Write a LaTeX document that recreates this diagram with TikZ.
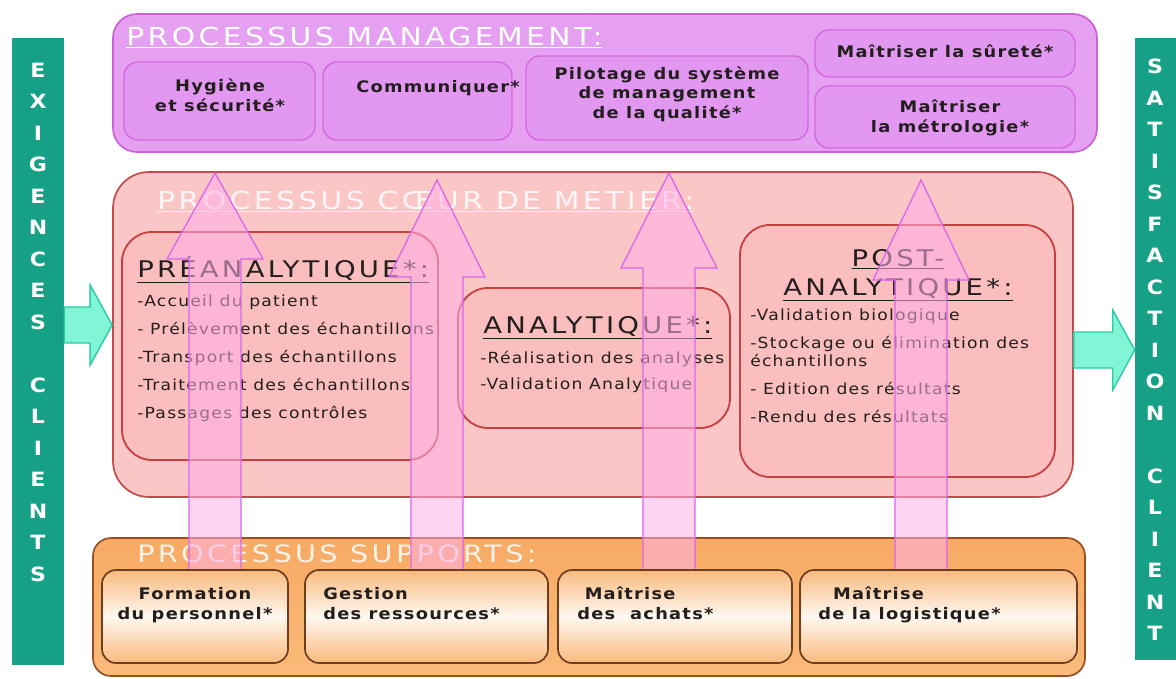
\documentclass[tikz,border=0pt]{standalone}
\usepackage{fontspec}
\setmainfont{DejaVu Sans}[FakeStretch=1.12,LetterSpace=8]
\newfontfamily\headfont{DejaVu Sans}[FakeStretch=1.2,LetterSpace=14]
\usetikzlibrary{positioning,fit,calc}
\definecolor{barteal}{RGB}{22,160,133}
\definecolor{aqua}{RGB}{130,245,215}
\definecolor{aquaedge}{RGB}{40,205,165}
\definecolor{mgmtfill}{RGB}{230,160,242}
\definecolor{mgmtline}{RGB}{205,95,215}
\definecolor{mgmtsubfill}{RGB}{226,152,240}
\definecolor{mgmtsubline}{RGB}{212,105,222}
\definecolor{corefill}{RGB}{250,198,198}
\definecolor{coreline}{RGB}{195,75,75}
\definecolor{phasefill}{RGB}{250,190,190}
\definecolor{phaseline}{RGB}{200,65,65}
\definecolor{suptop}{RGB}{247,170,100}
\definecolor{supbottom}{RGB}{250,186,122}
\definecolor{supline}{RGB}{150,80,35}
\definecolor{supsubedge}{RGB}{248,185,125}
\definecolor{supsubmid}{RGB}{255,248,240}
\definecolor{supsubline}{RGB}{110,60,30}
\definecolor{flowpink}{RGB}{255,175,232}
\definecolor{flowedge}{RGB}{220,100,235}
\definecolor{inkdark}{RGB}{35,30,30}

% block arrow going right, #1 = foot, #2 = tip
\newcommand{\sidearrow}[2]{%
  \filldraw[cyanarrow] ($(#1)+(0,-18)$) -- ($(#2)+(-22,-18)$) -- ($(#2)+(-22,-40)$) -- (#2)
    -- ($(#2)+(-22,40)$) -- ($(#2)+(-22,18)$) -- ($(#1)+(0,18)$) -- cycle;}
% block arrow going up, #1 = foot, #2 = tip, #3 = head length
\newcommand{\uparrowflow}[3]{%
  \filldraw[pinkarrow] ($(#1)+(-26,0)$) -- ($(#2)+(-26,#3)$) -- ($(#2)+(-48,#3)$) -- (#2)
    -- ($(#2)+(48,#3)$) -- ($(#2)+(26,#3)$) -- ($(#1)+(26,0)$) -- cycle;}

\begin{document}
\begin{tikzpicture}[
    x=0.025cm, y=-0.025cm,
    every node/.style={inner sep=0pt},
    sidebar/.style={rectangle, fill=barteal},
    sideletters/.style={text=white, align=center, font=\bfseries\fontsize{14}{22.4}\selectfont},
    mgmtbox/.style={rectangle, rounded corners=0.6cm, draw=mgmtline, fill=mgmtfill, line width=1.2pt},
    mgmtsub/.style={rectangle, rounded corners=0.35cm, draw=mgmtsubline, fill=mgmtsubfill, line width=1pt},
    corebox/.style={rectangle, rounded corners=0.9cm, draw=coreline, fill=corefill, line width=1.2pt},
    phasebox/.style={rectangle, rounded corners=0.75cm, draw=phaseline, fill=phasefill, line width=1.3pt},
    supbox/.style={rectangle, rounded corners=0.45cm, draw=supline, top color=suptop, bottom color=supbottom, line width=1.2pt},
    supsub/.style={rectangle, rounded corners=0.35cm, draw=supsubline, top color=supsubedge, bottom color=supsubedge, middle color=supsubmid, line width=1.2pt},
    headtxt/.style={anchor=base west, text=white, font=\headfont\fontsize{17.6}{20}\selectfont},
    phasetitle/.style={anchor=base west, text=inkdark, font=\headfont\fontsize{16.3}{20.6}\selectfont},
    itemtxt/.style={anchor=base west, align=left, text=inkdark, font=\fontsize{10.9}{19.8}\selectfont},
    boxtxt/.style={anchor=base, align=center, text=inkdark, font=\bfseries\fontsize{11.3}{13.7}\selectfont},
    cyanarrow/.style={fill=aqua, draw=aquaedge, line width=1pt},
    pinkarrow/.style={fill=flowpink, fill opacity=0.55, draw=flowedge, line width=0.9pt}
]
    \path[use as bounding box, clip] (0,0) rectangle (1176,678);
    \fill[white] (0,0) rectangle (1176,678);

    % customer bars
    \node[sidebar, fit={(12,38) (64,665)}] (exig) {};
    \node[sidebar, fit={(1135,38) (1190,660)}] (satis) {};
    \node[sideletters] (exigtxt) at (38,322) {E\\X\\I\\G\\E\\N\\C\\E\\S\\~\\C\\L\\I\\E\\N\\T\\S};
    \node[sideletters] (satistxt) at (1155,350) {S\\A\\T\\I\\S\\F\\A\\C\\T\\I\\O\\N\\~\\C\\L\\I\\E\\N\\T};

    % management (base = last line)
    \node[mgmtbox, fit={(113,14) (1097,152)}] (mgmt) {};
    \node[headtxt] (mgmttitle) at (126,45) {\underline{PROCESSUS MANAGEMENT:}};
    \node[mgmtsub, fit={(124,62) (315,140)}] (hyg) {};
    \node[mgmtsub, fit={(323,62) (512,140)}] (comm) {};
    \node[mgmtsub, fit={(526,56) (808,140)}] (pilot) {};
    \node[mgmtsub, fit={(815,30) (1075,77)}] (surete) {};
    \node[mgmtsub, fit={(815,86) (1075,148)}] (metro) {};
    \node[boxtxt] (hygtxt) at (220,111) {Hygiène\\et sécurité*};
    \node[boxtxt, anchor=base west] (commtxt) at (356,92) {Communiquer*};
    \node[boxtxt] (pilottxt) at (667,118) {Pilotage du système\\de management\\de la qualité*};
    \node[boxtxt] (suretetxt) at (945,57) {Maîtriser la sûreté*};
    \node[boxtxt] (metrotxt) at (950,132) {Maîtriser\\la métrologie*};

    % core business
    \node[corebox, fit={(113,172) (1073,497)}] (core) {};
    \node[headtxt, text opacity=0.85] (coretitle) at (157,209) {\underline{PROCESSUS CŒUR DE METIER:}};
    \node[phasebox, fit={(122,232) (438,460)}] (pre) {};
    \node[phasebox, fit={(458,288) (730,428)}] (ana) {};
    \node[phasebox, fit={(740,225) (1055,477)}] (post) {};
    \node[phasetitle] (pretitle) at (137,277) {\underline{PRÉANALYTIQUE*:}};
    \node[itemtxt] (preitems) at (137,418) {-Accueil du patient\\- Prélèvement des échantillons\\-Transport des échantillons\\-Traitement des échantillons\\-Passages des contrôles};
    \node[phasetitle] (anatitle) at (483,333) {\underline{ANALYTIQUE*:}};
    \node[itemtxt] (anaitems) at (480,389) {-Réalisation des analyses\\[-2pt]-Validation Analytique};
    \node[phasetitle, anchor=base, align=center] (posttitle) at (898,295) {\underline{POST-}\\\underline{ANALYTIQUE*:}};
    \node[itemtxt] (postitems) at (750,422) {-Validation biologique\\-Stockage ou élimination des\\[-7pt]échantillons\\- Edition des résultats\\-Rendu des résultats};

    % requirements in, satisfaction out
    \coordinate (exigout) at (exig.east |- 0,325);
    \coordinate (corein) at (core.west |- 0,325);
    \coordinate (coreout) at (core.east |- 0,350);
    \coordinate (satisin) at (satis.west |- 0,350);
    \sidearrow{exigout}{corein}
    \sidearrow{coreout}{satisin}

    % supports
    \node[supbox, fit={(93,538) (1085,676)}] (sup) {};
    \node[headtxt, text opacity=0.85, font=\headfont\fontsize{17}{20}\selectfont] (suptitle) at (137,562) {PROCESSUS SUPPORTS:};

    % support flows going up
    \coordinate (tip1) at (215,173);
    \coordinate (tip2) at (437,180);
    \coordinate (tip3) at (669,173);
    \coordinate (tip4) at (921,180);
    \uparrowflow{tip1 |- 0,572}{tip1}{86}
    \uparrowflow{tip2 |- 0,572}{tip2}{97}
    \uparrowflow{tip3 |- 0,572}{tip3}{95}
    \uparrowflow{tip4 |- 0,572}{tip4}{100}

    \node[supsub, fit={(102,570) (288,663)}] (form) {};
    \node[supsub, fit={(305,570) (548,663)}] (gest) {};
    \node[supsub, fit={(558,570) (792,663)}] (achat) {};
    \node[supsub, fit={(800,570) (1077,663)}] (logi) {};
    \node[boxtxt] (formtxt) at (195,619) {Formation\\du personnel*};
    \node[boxtxt, anchor=base west, align=left] (gesttxt) at (323,619) {Gestion\\des ressources*};
    \node[boxtxt, anchor=base west, align=left] (achattxt) at (577,619) {~Maîtrise\\des\ \ achats*};
    \node[boxtxt, anchor=base west, align=left] (logitxt) at (818,619) {~~Maîtrise\\de la logistique*};
\end{tikzpicture}
\end{document}
